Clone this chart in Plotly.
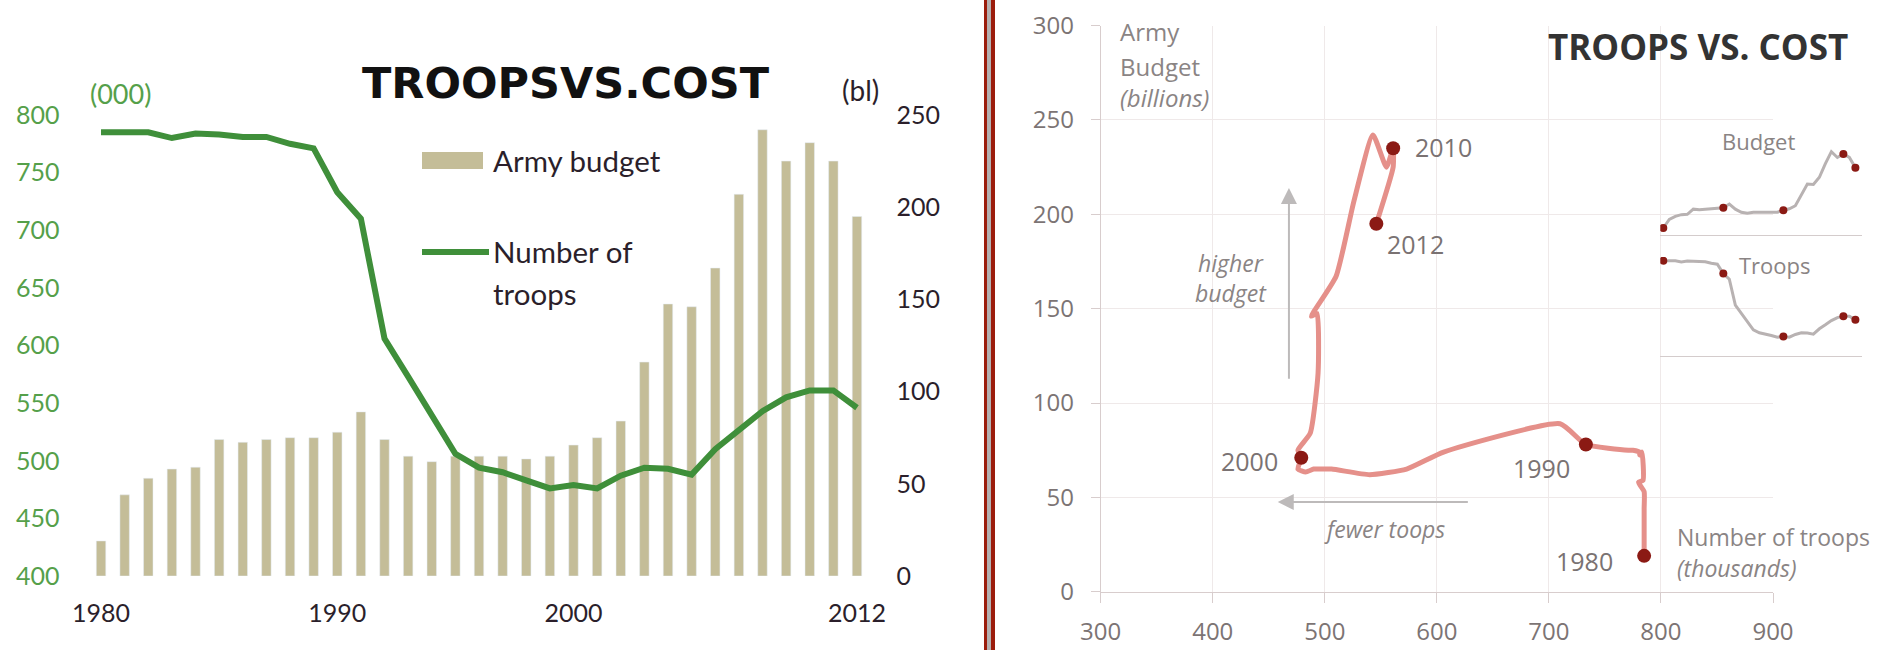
import plotly.graph_objects as go

W, H = 1892, 650

# data
years = list(range(1980, 2013))
budget = [19, 44, 53, 58, 59, 74, 72.5, 74, 75, 75,
          78, 89, 74, 65, 62, 65, 65, 65, 63.5, 65,
          71, 75, 84, 116, 147.5, 146, 167, 207, 242, 225,
          235, 225, 195]
troops = [785, 785, 785, 780, 784, 783, 781, 781, 775, 771,
          733, 710, 606, 573, 540, 506, 494, 490, 483, 476,
          479, 476, 487, 494, 493, 488, 510, 526, 543, 555,
          561, 561, 546]
left_ticks = [1980, 1990, 2000, 2012]
marked_years = [1980, 1990, 2000, 2010, 2012]

TAN = "#c4bd98"
GREEN = "#3f8f3a"
GREEN_TXT = "#55a04a"
DARK = "#2b1f2b"
SALMON = "#e5908a"
DOT = "#8b1a14"
GREY_TXT = "#7c7474"
GRID = "#efe9e9"
AXIS = "#d8cdcd"


def px(x):
    return x / W


def py(y):
    return 1 - y / H


idx = [years.index(y) for y in marked_years]
mk_troops = [troops[i] for i in idx]
mk_budget = [budget[i] for i in idx]

fig = go.Figure()

# left panel: bars + troop line
fig.add_trace(go.Bar(x=years, y=budget, marker_color=TAN, width=0.4,
                     xaxis="x", yaxis="y", showlegend=False))
fig.add_trace(go.Scatter(x=years, y=troops, mode="lines",
                         line=dict(color=GREEN, width=6),
                         xaxis="x", yaxis="y2", showlegend=False))

# right panel: connected scatter
fig.add_trace(go.Scatter(x=troops, y=budget, mode="lines",
                         line=dict(color=SALMON, width=5, shape="spline", smoothing=0.5),
                         xaxis="x3", yaxis="y3", showlegend=False))
fig.add_trace(go.Scatter(x=mk_troops, y=mk_budget, mode="markers",
                         marker=dict(color=DOT, size=14),
                         xaxis="x3", yaxis="y3", showlegend=False))

# small multiples
fig.add_trace(go.Scatter(x=years, y=budget, mode="lines",
                         line=dict(color="#b8b2b2", width=3),
                         xaxis="x4", yaxis="y4", showlegend=False))
fig.add_trace(go.Scatter(x=marked_years, y=mk_budget, mode="markers",
                         marker=dict(color=DOT, size=8),
                         xaxis="x4", yaxis="y4", showlegend=False))
fig.add_trace(go.Scatter(x=years, y=troops, mode="lines",
                         line=dict(color="#b8b2b2", width=3),
                         xaxis="x5", yaxis="y5", showlegend=False))
fig.add_trace(go.Scatter(x=marked_years, y=mk_troops, mode="markers",
                         marker=dict(color=DOT, size=8),
                         xaxis="x5", yaxis="y5", showlegend=False))

left_font = "Lato"
right_font = "Open Sans"

annotations = []


def note(text, x, y, size, color, font=right_font, xanchor="center", **kw):
    annotations.append(dict(text=text, x=px(x), y=py(y), xref="paper", yref="paper",
                            showarrow=False, xanchor=xanchor, yanchor="middle",
                            font=dict(family=font, size=size, color=color), **kw))


# left panel texts
note("<b>TROOPSVS.COST</b>", 566, 83, 43, "#111111", font="DejaVu Sans")
note("(000)", 120, 93, 27, GREEN_TXT, font=left_font)
note("(bl)", 860, 90, 28, DARK, font=left_font)
note("Army budget", 491, 160, 29.5, DARK, font=left_font, xanchor="left")
note("Number of", 491, 252, 29.5, DARK, font=left_font, xanchor="left")
note("troops", 491, 293, 29.5, DARK, font=left_font, xanchor="left")

# right panel texts
note("<b>TROOPS VS. COST</b>", 1698, 47, 35, "#333333")
note("Army", 1118, 32, 24, "#8a8484", xanchor="left")
note("Budget", 1118, 66, 24, "#8a8484", xanchor="left")
note("<i>(billions)</i>", 1118, 97, 24, "#8a8484", xanchor="left")
note("<i>higher<br>budget</i>", 1231, 278, 23, "#8a8484")
note("<i>fewer toops</i>", 1384, 529, 23, "#8a8484")
note("Number of troops", 1675, 537, 23, "#8a8484", xanchor="left")
note("<i>(thousands)</i>", 1675, 568, 23, "#8a8484", xanchor="left")
note("Budget", 1758, 141, 22, "#8a8484")
note("Troops", 1775, 265, 22, "#8a8484")

# year labels next to the highlighted points
label_pos = {
    1980: ("right", -29, -5),
    1990: ("center", -44, -23),
    2000: ("right", -21, -3),
    2010: ("left", 20, 1),
    2012: ("left", 9, -20),
}
for yr, tx, bx in zip(marked_years, mk_troops, mk_budget):
    anchor, dx, dy = label_pos[yr]
    annotations.append(dict(text=str(yr), x=tx, y=bx, xref="x3", yref="y3",
                            showarrow=False, xanchor=anchor, yanchor="middle",
                            xshift=dx, yshift=dy,
                            font=dict(family=right_font, size=25, color="#7a7272")))

# direction arrows
annotations.append(dict(x=468, y=214, ax=468, ay=112, xref="x3", yref="y3",
                        axref="x3", ayref="y3", text="", showarrow=True,
                        arrowhead=2, arrowsize=1.6, arrowwidth=2, arrowcolor="#bdbaba"))
annotations.append(dict(x=458, y=47.5, ax=629, ay=47.5, xref="x3", yref="y3",
                        axref="x3", ayref="y3", text="", showarrow=True,
                        arrowhead=2, arrowsize=1.6, arrowwidth=2, arrowcolor="#bdbaba"))

shapes = [
    # legend swatches
    dict(type="rect", xref="paper", yref="paper", x0=px(422), x1=px(483), y0=py(169), y1=py(152),
         fillcolor=TAN, line_width=0),
    dict(type="line", xref="paper", yref="paper", x0=px(422), x1=px(489), y0=py(252), y1=py(252),
         line=dict(color=GREEN, width=6)),
    # double rule between the panels
    dict(type="rect", xref="paper", yref="paper", x0=px(984), x1=px(995), y0=0, y1=1,
         fillcolor="#9b1c0c", line_width=0),
    dict(type="rect", xref="paper", yref="paper", x0=px(987), x1=px(991), y0=0, y1=1,
         fillcolor="#b4b0b0", line_width=0),
]

hidden = dict(showgrid=False, zeroline=False, showline=False, showticklabels=False,
              ticks="", automargin=False)

fig.update_layout(
    width=W, height=H,
    margin=dict(l=0, r=0, t=0, b=0, pad=0),
    paper_bgcolor="white", plot_bgcolor="rgba(0,0,0,0)",
    bargap=0.6,
    annotations=annotations,
    shapes=shapes,
    xaxis=dict(domain=[px(77.4), px(880.6)], range=[1979, 2013], anchor="y",
               tickvals=left_ticks, showgrid=False, zeroline=False, showline=False,
               ticks="", ticklabelstandoff=20, automargin=False,
               tickfont=dict(family=left_font, size=25, color=DARK)),
    yaxis=dict(domain=[py(576), py(115)], range=[0, 250], side="right", anchor="x",
               dtick=50, showgrid=False, zeroline=False, showline=False, ticks="",
               ticklabelstandoff=15, automargin=False,
               tickfont=dict(family=left_font, size=25, color=DARK)),
    yaxis2=dict(domain=[py(576), py(115)], range=[400, 800], side="left", anchor="x",
                overlaying="y", dtick=50, showgrid=False, zeroline=False, showline=False,
                ticks="", ticklabelstandoff=17, automargin=False,
                tickfont=dict(family=left_font, size=25, color=GREEN_TXT)),
    xaxis3=dict(domain=[px(1100.7), px(1773)], range=[300, 900], anchor="y3",
                dtick=100, showgrid=True, gridcolor=GRID, gridwidth=1,
                zeroline=False, showline=True, linecolor=AXIS, linewidth=1,
                ticks="outside", ticklen=10, tickcolor=AXIS, ticklabelstandoff=8,
                automargin=False,
                tickfont=dict(family=right_font, size=24, color=GREY_TXT)),
    yaxis3=dict(domain=[py(591.7), py(25.6)], range=[0, 300], anchor="x3",
                dtick=50, showgrid=True, gridcolor=GRID, gridwidth=1,
                zeroline=False, showline=True, linecolor=AXIS, linewidth=1,
                ticks="outside", ticklen=9, tickcolor=AXIS, ticklabelstandoff=12,
                automargin=False,
                tickfont=dict(family=right_font, size=24, color=GREY_TXT)),
    xaxis4=dict(domain=[px(1660.3), px(1862)], range=[1979.5, 2013.1], anchor="y4",
                showgrid=False, zeroline=False, showline=True, linecolor="#d4cccc",
                linewidth=1, showticklabels=False, ticks="", automargin=False),
    yaxis4=dict(domain=[py(234.5), py(148.9)], range=[0, 250], anchor="x4", **hidden),
    xaxis5=dict(domain=[px(1660.3), px(1862)], range=[1979.5, 2013.1], anchor="y5",
                showgrid=False, zeroline=False, showline=True, linecolor="#d4cccc",
                linewidth=1, showticklabels=False, ticks="", automargin=False),
    yaxis5=dict(domain=[py(356), py(257)], range=[400, 800], anchor="x5", **hidden),
)

fig.write_html("out.html", config={"displayModeBar": False},
               post_script="document.body.style.margin='0';")
